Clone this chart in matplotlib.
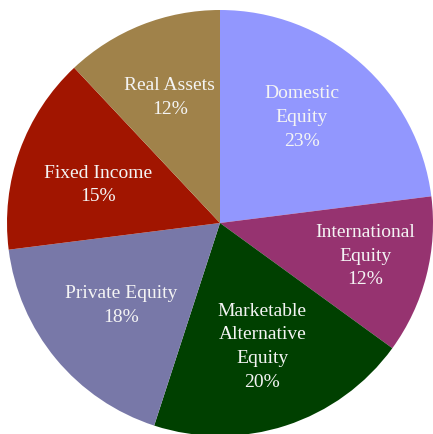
import numpy as np
from matplotlib import pyplot as plt

# asset allocation, clockwise from 12 o'clock
labels = ['Domestic\nEquity', 'International\nEquity', 'Marketable\nAlternative\nEquity',
          'Private Equity', 'Fixed Income', 'Real Assets']
shares = [23, 12, 20, 18, 15, 12]
colors = ['#9297FE', '#963370', '#004000', '#7878A8', '#A11500', '#A0824A']
# how far out each label sits (fraction of radius)
label_r = [0.63, 0.70, 0.61, 0.60, 0.60, 0.64]
label_shift = [4, 2, 1, 0, 2, 0]  # small angular nudges in degrees

plt.rcParams['font.family'] = ['Liberation Serif', 'DejaVu Serif']

fig = plt.figure(figsize=(4.33, 4.35), dpi=100)
ax = fig.add_axes([0, 0, 1, 1])

wedges, _ = ax.pie(shares, colors=colors, startangle=90, counterclock=False,
                   wedgeprops=dict(linewidth=0))

for w, lab, s, r, sh in zip(wedges, labels, shares, label_r, label_shift):
    mid = np.deg2rad((w.theta1 + w.theta2) / 2 + sh)
    ax.text(r * np.cos(mid), r * np.sin(mid), '%s\n%d%%' % (lab, s),
            ha='center', va='center', color='#F4F4F4', fontsize=14,
            linespacing=1.52)

ax.set_xlim(-220 / 213, 213 / 213)
ax.set_ylim(-211 / 213, 224 / 213)
ax.set_aspect('auto')
ax.axis('off')

fig.savefig('out.png', dpi=100)
